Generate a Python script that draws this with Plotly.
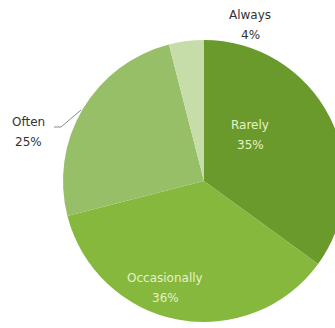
import plotly.graph_objects as go

categories = ["Rarely", "Occasionally", "Often", "Always"]
shares = [35, 36, 25, 4]
slice_colors = ["#6b9a2c", "#85b83c", "#97bf68", "#c7dda9"]

W, H = 350, 328          # canvas is a bit wider than the window so the pie's right edge is clipped
cx, cy, r = 204, 181, 141  # pie centre and radius in pixels

fig = go.Figure(go.Pie(
    labels=categories,
    values=shares,
    sort=False,
    direction="clockwise",
    rotation=0,
    marker=dict(colors=slice_colors, line=dict(width=0)),
    textinfo="none",
    hoverinfo="label+percent",
    domain=dict(x=[(cx - r) / W, (cx + r) / W],
                y=[(H - cy - r) / H, (H - cy + r) / H]),
    showlegend=False,
))

# label centre (pixels, first line) and colour for each category
label_pos = {
    "Rarely": (250, 125, "#e6f2c8"),
    "Occasionally": (165, 278, "#e6f2c8"),
    "Often": (28, 122, "#333333"),
    "Always": (250, 15, "#333333"),
}
line_gap = 20

for name, val in zip(categories, shares):
    x, y, col = label_pos[name]
    for i, txt in enumerate([name, f"{val}%"]):
        fig.add_annotation(
            x=x / W, y=1 - (y + i * line_gap) / H, xref="paper", yref="paper",
            text=txt, showarrow=False,
            font=dict(family="DejaVu Sans", size=12, color=col),
            xanchor="center", yanchor="middle",
        )

# leader line from the "Often" label to its slice
fig.add_shape(type="path", xref="paper", yref="paper",
              path=f"M {54/W},{1-127/H} L {61/W},{1-127/H} L {81/W},{1-110/H}",
              line=dict(color="#8a8a8a", width=1))

fig.update_layout(
    width=W, height=H,
    margin=dict(l=0, r=0, t=0, b=0),
    paper_bgcolor="white",
    plot_bgcolor="white",
)

fig.write_html("out.html")
